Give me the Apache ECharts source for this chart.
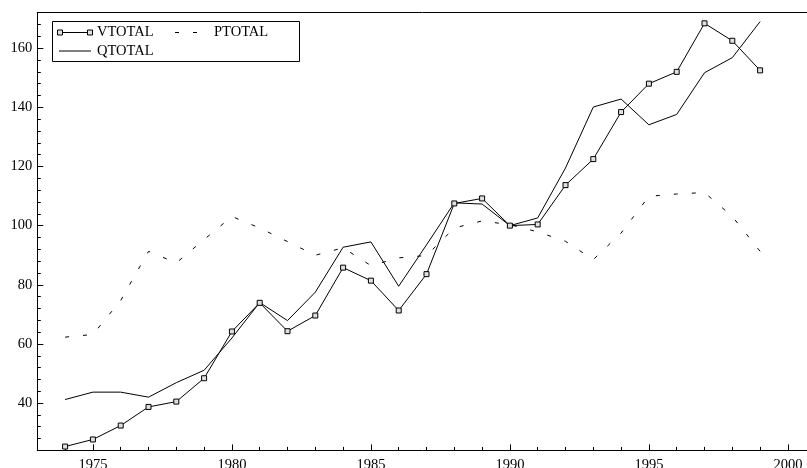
<!DOCTYPE html>
<html>
<head>
<meta charset="utf-8">
<script src="https://cdn.jsdelivr.net/npm/echarts@6/dist/echarts.min.js"></script>
<style>
html,body{margin:0;padding:0;background:#fff;}
#c{width:807px;height:468px;}
</style>
</head>
<body>
<div id="c"></div>
<script>
var years = [1974,1975,1976,1977,1978,1979,1980,1981,1982,1983,1984,1985,1986,1987,1988,1989,1990,1991,1992,1993,1994,1995,1996,1997,1998,1999];
var vtotal = [25.3,27.7,32.4,38.7,40.5,48.4,64.2,73.9,64.3,69.6,85.8,81.4,71.3,83.6,107.5,109.2,100.0,100.4,113.7,122.5,138.4,148.0,152.0,168.4,162.5,152.5];
var ptotal = [62.3,63.2,74.7,91.3,87.4,95.3,103.1,99.2,94.6,90.0,92.5,86.5,89.1,89.9,99.2,101.6,100.3,97.9,94.7,88.5,97.5,109.9,110.7,111.2,103.1,91.3];
var qtotal = [41.2,43.7,43.7,42.0,46.9,51.1,62.0,74.0,67.9,77.5,92.7,94.5,79.5,93.5,107.7,107.3,100.0,102.6,119.5,140.1,142.8,134.1,137.6,151.7,156.8,169.0];
var seriesNames = ['VTOTAL','PTOTAL','QTOTAL'];
var xMajorTicks = [1975,1980,1985,1990,1995,2000];
var xMinorTicks = [1973,1974,1975,1976,1977,1978,1979,1980,1981,1982,1983,1984,1985,1986,1987,1988,1989,1990,1991,1992,1993,1994,1995,1996,1997,1998,1999,2000,2001];
var yMajorTicks = [40,60,80,100,120,140,160];
var yMinorTicks = [24,28,32,36,40,44,48,52,56,60,64,68,72,76,80,84,88,92,96,100,104,108,112,116,120,124,128,132,136,140,144,148,152,156,160,164,168,172];

function pairs(vals){ return years.map(function(y,i){ return [y, vals[i]]; }); }

var FONT = '"Liberation Serif", "Times New Roman", serif';
var chart = echarts.init(document.getElementById('c'), null, {renderer:'canvas'});
var lineCol = '#000';

var option = {
  animation:false,
  backgroundColor:'#fff',
  grid:{left:37.3, top:12.7, bottom:17.6, right:-8.7, containLabel:false, outerBoundsMode:'none'},
  xAxis:[
    {type:'value', min:1973, max:2001, position:'bottom',
     axisLine:{show:true, lineStyle:{color:'#000', width:1}},
     axisTick:{show:true, inside:true, length:6, customValues:xMajorTicks, lineStyle:{color:'#000'}},
     axisLabel:{show:true, customValues:xMajorTicks, margin:7, color:'#000', fontFamily:FONT, fontSize:14.5,
       formatter:function(v){ return String(v); }},
     splitLine:{show:false}},
    {type:'value', min:1973, max:2001, position:'bottom',
     axisLine:{show:false},
     axisTick:{show:true, inside:true, length:3.5, customValues:xMinorTicks, lineStyle:{color:'#000'}},
     axisLabel:{show:false}, splitLine:{show:false}},
    {type:'value', min:1973, max:2001, position:'top',
     axisLine:{show:true, lineStyle:{color:'#000', width:1}},
     axisTick:{show:false}, axisLabel:{show:false}, splitLine:{show:false}}
  ],
  yAxis:[
    {type:'value', min:24, max:172, position:'left',
     axisLine:{show:true, lineStyle:{color:'#000', width:1}},
     axisTick:{show:true, inside:true, length:6, customValues:yMajorTicks, lineStyle:{color:'#000'}},
     axisLabel:{show:true, customValues:yMajorTicks, margin:5, color:'#000', fontFamily:FONT, fontSize:14.5},
     splitLine:{show:false}},
    {type:'value', min:24, max:172, position:'left',
     axisLine:{show:false},
     axisTick:{show:true, inside:true, length:3.5, customValues:yMinorTicks, lineStyle:{color:'#000'}},
     axisLabel:{show:false}, splitLine:{show:false}}
  ],
  series:[
    {name:seriesNames[0], type:'line', data:pairs(vtotal), xAxisIndex:0, yAxisIndex:0,
     symbol:'rect', symbolSize:5, showAllSymbol:true,
     lineStyle:{color:lineCol, width:1},
     itemStyle:{color:'#e0e0e0', borderColor:'#000', borderWidth:1}},
    {name:seriesNames[1], type:'line', data:pairs(ptotal), xAxisIndex:0, yAxisIndex:0,
     symbol:'none', lineStyle:{color:lineCol, width:1, type:[4,14]}},
    {name:seriesNames[2], type:'line', data:pairs(qtotal), xAxisIndex:0, yAxisIndex:0,
     symbol:'none', lineStyle:{color:lineCol, width:1}}
  ],
  graphic:[
    {type:'rect', shape:{x:52.5, y:21.5, width:247, height:40}, style:{fill:'#fff', stroke:'#000', lineWidth:1}, z:100},
    {type:'line', shape:{x1:60, y1:32.5, x2:90, y2:32.5}, style:{stroke:'#000', lineWidth:1}, z:101},
    {type:'rect', shape:{x:57.5, y:30, width:5, height:5}, style:{fill:'#e0e0e0', stroke:'#000', lineWidth:1}, z:102},
    {type:'rect', shape:{x:87.5, y:30, width:5, height:5}, style:{fill:'#e0e0e0', stroke:'#000', lineWidth:1}, z:102},
    {type:'text', x:97, y:32.5, style:{text:seriesNames[0], fill:'#000', fontFamily:FONT, fontSize:14.5, verticalAlign:'middle'}, z:101},
    {type:'line', shape:{x1:175, y1:32.5, x2:200, y2:32.5}, style:{stroke:'#000', lineWidth:1, lineDash:[4,14]}, z:101},
    {type:'text', x:214, y:32.5, style:{text:seriesNames[1], fill:'#000', fontFamily:FONT, fontSize:14.5, verticalAlign:'middle'}, z:101},
    {type:'line', shape:{x1:59, y1:51, x2:91, y2:51}, style:{stroke:'#000', lineWidth:1}, z:101},
    {type:'text', x:97, y:51, style:{text:seriesNames[2], fill:'#000', fontFamily:FONT, fontSize:14.5, verticalAlign:'middle'}, z:101}
  ]
};
chart.setOption(option);
</script>
</body>
</html>
